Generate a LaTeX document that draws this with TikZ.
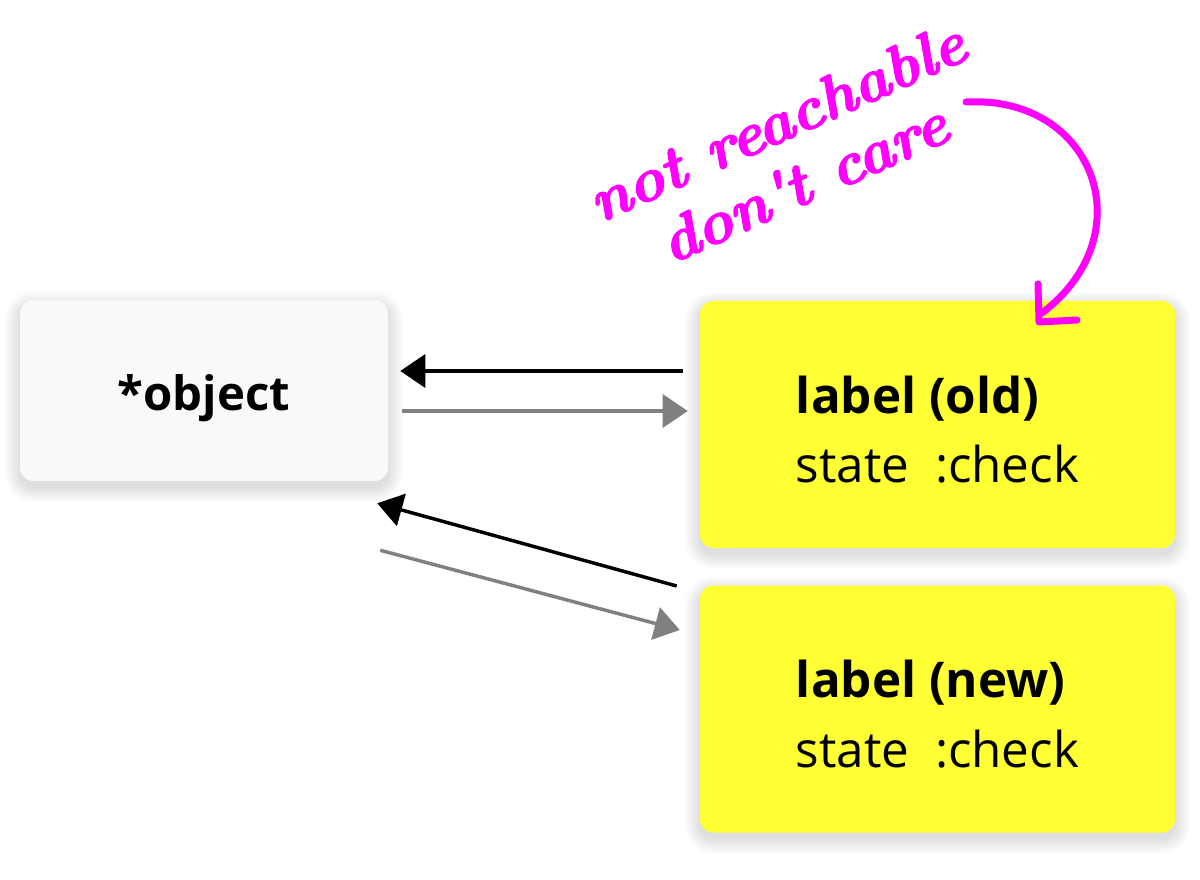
\documentclass[tikz,border=0pt]{standalone}
\usepackage{fontspec}
\setmainfont{Open Sans}
\newfontfamily\hand{lmroman10-bolditalic.otf}[FakeBold=2.2]
\usetikzlibrary{arrows.meta,calc}
\definecolor{ybox}{HTML}{FFFF33}
\definecolor{gbox}{HTML}{F9F9F9}
\definecolor{mag}{HTML}{FF00FF}
\definecolor{garrow}{HTML}{808080}
\pgfdeclarelayer{bg}
\pgfsetlayers{bg,main}
\begin{document}
\begin{tikzpicture}[x=0.75pt,y=-0.75pt,
  box/.style={rounded corners=10pt, draw=none, inner sep=0pt},
  objbox/.style={box, fill=gbox, minimum width=276pt, minimum height=135.75pt},
  lblbox/.style={box, fill=ybox, minimum width=356.25pt, minimum height=185.25pt},
  objtext/.style={font=\fontsize{35.5}{40}\selectfont\bfseries},
  lbltext/.style={align=left, font=\fontsize{37}{52}\selectfont},
  conn/.style={line width=2.6pt, -{Triangle[length=18.75pt,width=24.75pt]}},
  back/.style={conn, black},
  fwd/.style={conn, garrow},
  note/.style={mag, font=\fontsize{46}{50}\selectfont\hand, rotate=24, align=center},
  pen/.style={mag, line width=5.25pt, line cap=round, line join=round},
  shade/.style={fill=black, opacity=0.008}
]
\useasboundingbox (0,0) rectangle (1200,880);

\node[objbox] (obj) at (204,390.5) {};
\node[lblbox] (old) at (937.5,424.5) {};
\node[lblbox] (new) at (937.5,709) {};
\node[objtext] (objt) at ($(obj.center)+(0,8)$) {*object};
\node[lbltext] (oldt) at ($(old.center)+(0,5)$) {\textbf{label (old)}\\state\ \ :check};
\node[lbltext] (newt) at ($(new.center)+(0,5)$) {\textbf{label (new)}\\state\ \ :check};

\begin{pgfonlayer}{bg}
\fill[white] (0,0) rectangle (1200,880);
\foreach \n in {obj,old,new}{
  \foreach \i in {0,...,15}{
    \fill[shade, rounded corners={10pt+0.75pt*\i}]
      ($(\n.south west)+(-\i,\i+6)$) rectangle ($(\n.north east)+(\i,-\i+6)$);
  }
}
\end{pgfonlayer}

\draw[back] ($(old.west)+(-17,-53.5)$) -- ($(obj.east)+(12,-19.5)$);
\draw[fwd] ($(obj.east)+(14,20.5)$) -- ($(old.west)+(-12,-13.5)$);
\draw[back] ($(new.west)+(-23,-123)$) -- ($(obj.south east)+(-11,22)$);
\draw[fwd] ($(obj.south east)+(-8,69)$) -- ($(new.west)+(-20,-79)$);

\node[note] (n1) at (790,152) {not reachable\\don't care};

\coordinate (cs) at (966,102);
\coordinate (ce) at (1042,313);
\coordinate (h1) at (1038,284);
\coordinate (h2) at (1039,322);
\coordinate (h3) at (1077,320);
\draw[pen] (cs) .. controls (1095,95) and (1145,235) .. (ce);
\draw[pen] (h1) -- (h2) -- (h3);
\end{tikzpicture}
\end{document}
